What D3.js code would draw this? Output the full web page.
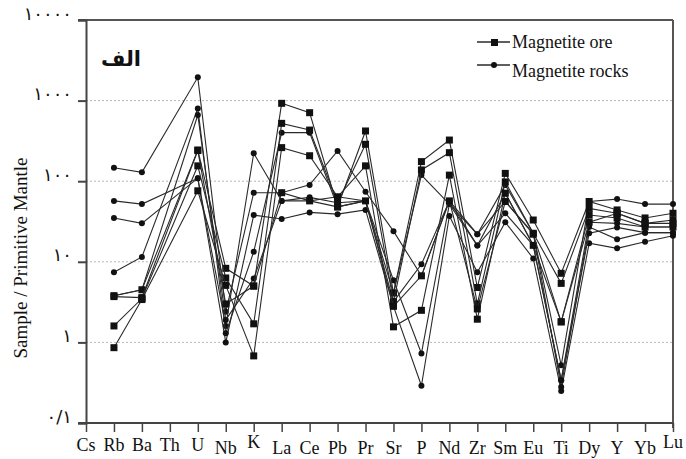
<!DOCTYPE html>
<html lang="en">
<head>
  <meta charset="UTF-8">
  <title>Spider diagram</title>
  <script src="https://d3js.org/d3.v7.min.js"></script>
  <style>
    body { margin: 0; background: #fff; }
    svg text { font-family: "Liberation Serif", "Times New Roman", Times, serif; }
    svg text.fa { font-family: "DejaVu Sans", sans-serif; }
  </style>
</head>
<body>
  <script>
    "use strict";
    // elements on the x axis
    var elements = ["Cs", "Rb", "Ba", "Th", "U", "Nb", "K", "La", "Ce", "Pb", "Pr",
      "Sr", "P", "Nd", "Zr", "Sm", "Eu", "Ti", "Dy", "Y", "Yb", "Lu"];
    var N = null; // not analysed

    // magnetite ore (square markers)
    var ore1 = [N, 3.8, 4.5, N, 244, 8.3, 5.0, 925, 708, 48, 420, 4.1, 175, 324, 4.8, 125, 33, 7.2, 56, 44, 35, 40];
    var ore2 = [N, 1.6, 3.5, N, 155, 6.3, 1.7, 522, 431, 54, 287, 3.2, 138, 226, 3.0, 98, 22.6, 5.4, 46, 40, 30, 33];
    var ore3 = [N, 0.86, 3.4, N, 76, 5.1, 0.68, 261, 207, 64, 155, 1.56, 2.5, 119, 1.94, 71, 16, 1.8, 38, 35, 27, 27];
    var ore4 = [N, 3.7, 3.6, N, 240, 3.0, 5.0, 72, 57, 48, 57, 2.8, 6.7, 57, 2.6, 56, 22, 1.8, 31, 40, 30, 30];

    // magnetite rocks (circle markers)
    var rock1 = [N, 147, 129, N, 1945, 2.4, 72, 72, 90, 237, 74, 24, 6.7, 57, 22, 56, 22.6, 0.52, 56, 60, 52, 52];
    var rock2 = [N, 57, 52, N, 109, 1.6, 222, 57, 63, 54, 57, 5.9, 0.73, 52, 15.9, 40, 16, 0.34, 31, 30, 27, 27];
    var rock3 = [N, 35, 30, N, 109, 1.0, 38, 34, 41, 39, 44, 2.8, 0.29, 37, 7.4, 31, 11, 0.25, 17, 14.7, 17.7, 21];
    var rock4 = [N, 7.4, 11.5, N, 800, 1.3, 13.3, 400, 400, 48, 57, 4.1, 119, 52, 22, 90, 22.6, 0.28, 27, 19, 23, 23];
    var rock5 = [N, 3.8, 4.5, N, 662, 1.9, 6.2, 57, 57, 64, 57, 3.2, 9.3, 57, 15.9, 71, 16, 0.34, 22.6, 26.7, 23, 23];

    var oreSeries = [ore1, ore2, ore3, ore4];
    var rockSeries = [rock1, rock2, rock3, rock4, rock5];

    var yTicks = [0.1, 1, 10, 100, 1000, 10000];
    var yTickLabels = ["۰/۱", "۱", "۱۰", "۱۰۰", "۱۰۰۰", "۱۰۰۰۰"];

    var width = 686, height = 459;
    var margin = { top: 20, right: 13, bottom: 36, left: 86 };

    var svg = d3.select("body").append("svg")
      .attr("width", width)
      .attr("height", height);

    var x = d3.scalePoint()
      .domain(elements)
      .range([margin.left, width - margin.right]);

    var y = d3.scaleLog()
      .domain([0.1, 10000])
      .range([height - margin.bottom, margin.top]);

    // dotted grid lines
    svg.append("g")
      .selectAll("line")
      .data(yTicks.slice(1, -1))
      .enter().append("line")
      .attr("x1", margin.left)
      .attr("x2", width - margin.right)
      .attr("y1", function (d) { return y(d); })
      .attr("y2", function (d) { return y(d); })
      .attr("stroke", "#b8b8b8")
      .attr("stroke-width", 1)
      .attr("stroke-dasharray", "2,2");

    // top and right frame
    svg.append("line")
      .attr("x1", margin.left - 8).attr("x2", width - margin.right)
      .attr("y1", y(10000)).attr("y2", y(10000))
      .attr("stroke", "#555").attr("stroke-width", 2);
    svg.append("line")
      .attr("x1", width - margin.right).attr("x2", width - margin.right)
      .attr("y1", y(10000)).attr("y2", y(0.1) + 5)
      .attr("stroke", "#555").attr("stroke-width", 2);

    // y axis
    var yAxis = d3.axisLeft(y)
      .tickValues(yTicks)
      .tickFormat(function (d, i) { return yTickLabels[i]; })
      .tickSize(8)
      .tickPadding(6);
    var gy = svg.append("g")
      .attr("transform", "translate(" + margin.left + ",0)")
      .call(yAxis);
    gy.select(".domain").attr("stroke", "#444").attr("stroke-width", 2);
    gy.selectAll(".tick line").attr("stroke", "#444").attr("stroke-width", 2);
    gy.selectAll(".tick text")
      .attr("class", "fa")
      .attr("font-size", "18px")
      .attr("fill", "#111")
      .attr("dy", "-0.05em");

    // x axis
    var xAxis = d3.axisBottom(x).tickSize(9).tickFormat("");
    var gx = svg.append("g")
      .attr("transform", "translate(0," + y(0.1) + ")")
      .call(xAxis);
    gx.select(".domain").attr("stroke", "#444").attr("stroke-width", 2)
      .attr("d", "M" + (margin.left - 8) + ",0H" + (width - margin.right));
    gx.selectAll(".tick line").attr("stroke", "#444").attr("stroke-width", 1.5);

    // element labels (slightly staggered like the scanned figure)
    svg.append("g")
      .selectAll("text")
      .data(elements)
      .enter().append("text")
      .attr("x", function (d) { return x(d); })
      .attr("y", function (d, i) {
        if (d === "K" || d === "Lu") return height - 11;
        return i < 5 ? height - 8 : height - 5;
      })
      .attr("text-anchor", "middle")
      .attr("font-size", "18px")
      .attr("fill", "#111")
      .text(function (d) { return d; });

    // y axis title
    svg.append("text")
      .attr("transform", "translate(27," + 258 + ") rotate(-90)")
      .attr("text-anchor", "middle")
      .attr("font-size", "19px")
      .attr("fill", "#111")
      .text("Sample / Primitive Mantle");

    // panel label
    svg.append("text")
      .attr("class", "fa")
      .attr("x", 141).attr("y", 66)
      .attr("text-anchor", "end")
      .attr("font-weight", "bold")
      .attr("font-size", "21px")
      .attr("fill", "#111")
      .text("الف");

    var line = d3.line()
      .x(function (d) { return x(d.el); })
      .y(function (d) { return y(d.v); });

    function toPoints(values) {
      return elements.map(function (el, i) { return { el: el, v: values[i] }; })
        .filter(function (d) { return d.v !== null; });
    }

    function drawSeries(series, shape) {
      series.forEach(function (values) {
        var pts = toPoints(values);
        svg.append("path")
          .datum(pts)
          .attr("fill", "none")
          .attr("stroke", "#2a2a2a")
          .attr("stroke-width", 1.1)
          .attr("d", line);
        if (shape === "square") {
          svg.append("g").selectAll("rect")
            .data(pts)
            .enter().append("rect")
            .attr("x", function (d) { return x(d.el) - 3.5; })
            .attr("y", function (d) { return y(d.v) - 3.5; })
            .attr("width", 7).attr("height", 7)
            .attr("fill", "#111");
        } else {
          svg.append("g").selectAll("circle")
            .data(pts)
            .enter().append("circle")
            .attr("cx", function (d) { return x(d.el); })
            .attr("cy", function (d) { return y(d.v); })
            .attr("r", 3)
            .attr("fill", "#111");
        }
      });
    }

    drawSeries(rockSeries, "circle");
    drawSeries(oreSeries, "square");

    // legend
    var legend = svg.append("g");
    legend.append("line").attr("x1", 477).attr("x2", 510).attr("y1", 42).attr("y2", 42)
      .attr("stroke", "#2a2a2a").attr("stroke-width", 1.3);
    legend.append("rect").attr("x", 491).attr("y", 39).attr("width", 7).attr("height", 7)
      .attr("fill", "#111");
    legend.append("text").attr("x", 512).attr("y", 48).attr("font-size", "18px")
      .attr("fill", "#111").text("Magnetite ore");
    legend.append("line").attr("x1", 477).attr("x2", 510).attr("y1", 65).attr("y2", 65)
      .attr("stroke", "#2a2a2a").attr("stroke-width", 1.3);
    legend.append("circle").attr("cx", 494).attr("cy", 65).attr("r", 3)
      .attr("fill", "#111");
    legend.append("text").attr("x", 512).attr("y", 77).attr("font-size", "18px")
      .attr("fill", "#111").text("Magnetite rocks");
  </script>
</body>
</html>
